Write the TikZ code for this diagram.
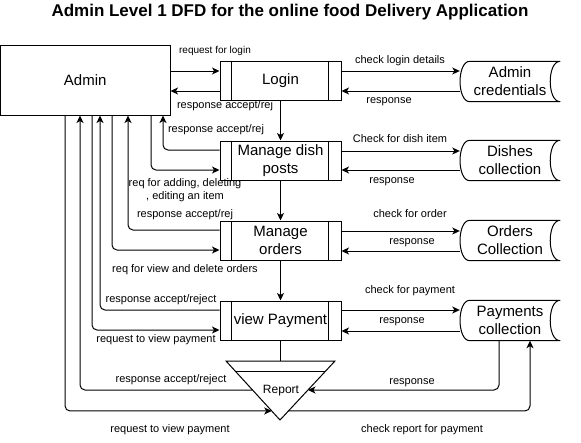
\documentclass[tikz,border=0pt]{standalone}
\usepackage{fontspec}
\setmainfont{Liberation Sans}
\usetikzlibrary{arrows.meta,calc}
\newcommand\dstoreshape[1]{%
  \draw[line width=1pt] ([xshift=10pt]#1.north west) -- (#1.north east)
    .. controls ([xshift=-13.3pt]#1.north east) and ([xshift=-13.3pt]#1.south east) .. (#1.south east)
    -- ([xshift=10pt]#1.south west)
    .. controls ([xshift=-3pt]#1.south west) and ([xshift=-3pt]#1.north west) .. cycle;}
\newcommand\procbars[1]{%
  \draw[line width=1pt] ([xshift=12pt]#1.north west) -- ([xshift=12pt]#1.south west);
  \draw[line width=1pt] ([xshift=-13pt]#1.north east) -- ([xshift=-13pt]#1.south east);}
\begin{document}
\begin{tikzpicture}[x=1pt,y=-1pt,
  ext/.style={draw, line width=1pt, minimum width=169.5pt, minimum height=70pt, inner sep=0pt, font=\fontsize{15}{18}\selectfont},
  proc/.style={draw, line width=1pt, minimum width=121pt, minimum height=39pt, inner sep=0pt, align=center, font=\fontsize{15}{18}\selectfont},
  storenode/.style={minimum width=100pt, minimum height=40pt, inner sep=0pt, align=center, font=\fontsize{15}{18}\selectfont},
  lbl/.style={inner sep=0pt, align=center, font=\fontsize{11}{13}\selectfont, text height=8pt, text depth=2.3pt},
  arr/.style={draw, line width=1pt, rounded corners=5pt, -{Stealth[length=7.5pt,width=7pt,inset=2pt]}},
  ln/.style={draw, line width=1pt, rounded corners=5pt}]
\fill[white] (0,0) rectangle (581,442);
\useasboundingbox (0,0) rectangle (581,442);

\node[font=\fontsize{17}{20}\selectfont\bfseries] (title) at (290,12) {Admin Level 1 DFD for the online food Delivery Application};

% external entity
\node[ext] (admin) at (85.25,80) {Admin};

% processes
\node[proc] (login) at (280.5,80.5) {Login};
\node[proc] (dish) at (280.5,160.5) {Manage dish\\posts};
\node[proc] (orders) at (280.5,240.5) {Manage\\orders};
\node[proc] (payment) at (280.5,320.5) {view Payment};
\procbars{login}
\procbars{dish}
\procbars{orders}
\procbars{payment}

% data stores
\node[storenode] (cred) at (510,81.5) {Admin\\credentials};
\node[storenode] (dishes) at (510,160.5) {Dishes\\collection};
\node[storenode] (ordersc) at (510,240.5) {Orders\\Collection};
\node[storenode] (payc) at (510,320.5) {Payments\\collection};
\dstoreshape{cred}
\dstoreshape{dishes}
\dstoreshape{ordersc}
\dstoreshape{payc}

% report triangle
\coordinate (rtl) at (226,361);
\coordinate (rtr) at (335,361);
\coordinate (rb) at (280,420);
\draw[line width=1pt] (rtl) -- (rtr) -- (rb) -- cycle;
\draw[line width=1pt] ($(rtl)!0.186!(rb)$) -- ($(rtr)!0.186!(rb)$);
\node[font=\fontsize{12}{14}\selectfont, inner sep=0pt] (report) at (281,391) {Report};
\coordinate (repL1) at ($(rtl)!0.4915!(rb)$);
\coordinate (repL2) at ($(rtl)!0.847!(rb)$);
\coordinate (repR1) at ($(rtr)!0.4915!(rb)$);
\coordinate (repR2) at ($(rtr)!0.847!(rb)$);

% admin <-> login
\draw[arr] (admin.east |- 0,71) -- (login.west |- 0,71);
\draw[arr] (login.west |- 0,91) -- (admin.east |- 0,91);
% login <-> credentials
\draw[arr] (login.east |- 0,71) -- (cred.west |- 0,71);
\draw[arr] (cred.west |- 0,91) -- (login.east |- 0,91);
% vertical flow
\draw[arr] (login.south) -- (dish.north);
\draw[arr] (dish.south) -- (orders.north);
\draw[arr] (orders.south) -- (payment.north);
\draw[ln] (payment.south) -- (payment.south |- rtl);

% dish <-> admin
\draw[arr] (dish.west |- 0,150) -| (163,0 |- admin.south);
\draw[arr] (151,0 |- admin.south) |- (dish.west |- 0,170);
% dish <-> dishes
\draw[arr] (dish.east |- 0,151) -- (dishes.west |- 0,151);
\draw[arr] (dishes.west |- 0,170) -- (dish.east |- 0,170);

% orders <-> admin
\draw[arr] (orders.west |- 0,230) -| (128,0 |- admin.south);
\draw[arr] (112,0 |- admin.south) |- (orders.west |- 0,250);
% orders <-> orders collection
\draw[arr] (orders.east |- 0,231) -- (ordersc.west |- 0,231);
\draw[arr] (ordersc.west |- 0,251) -- (orders.east |- 0,251);

% payment <-> admin
\draw[arr] (payment.west |- 0,310) -| (100,0 |- admin.south);
\draw[arr] (92,0 |- admin.south) |- (payment.west |- 0,330);
% payment <-> payments collection
\draw[arr] (payment.east |- 0,310) -- (payc.west |- 0,310);
\draw[arr] (payc.west |- 0,331) -- (payment.east |- 0,331);

% report <-> admin
\draw[arr] (repL1) -| (80,0 |- admin.south);
\draw[arr] (65,0 |- admin.south) |- (repL2);
% report <-> payments collection
\draw[arr] (payc.south -| 499,0) |- (repR1);
\draw[arr] (repR2) -| (530,0 |- payc.south);

% labels
\node[lbl, font=\fontsize{10}{12}\selectfont] (t1) at (215,51) {request for login};
\node[lbl] (t2) at (225,106) {response accept/rej};
\node[lbl] (t3) at (400,60.5) {check login details};
\node[lbl] (t4) at (389,101) {response};
\node[lbl] (t5) at (216,130) {response accept/rej};
\node[inner sep=0pt, align=center, font=\fontsize{11}{13}\selectfont] (t6) at (185,190.5) {req for adding, deleting\\, editing an item};
\node[lbl] (t7) at (400,140) {Check for dish item};
\node[lbl] (t8) at (392,181) {response};
\node[lbl] (t9) at (185,215) {response accept/rej};
\node[lbl] (t10) at (410,215) {check for order};
\node[lbl] (t11) at (412,242) {response};
\node[lbl] (t12) at (185,270) {req for view and delete orders};
\node[lbl] (t13) at (161,300) {response accept/reject};
\node[lbl] (t14) at (156,340) {request to view payment};
\node[lbl] (t15) at (410,291) {check for payment};
\node[lbl] (t16) at (402,321) {response};
\node[lbl] (t17) at (171,380) {response accept/reject};
\node[lbl] (t18) at (170,430) {request to view payment};
\node[lbl] (t19) at (412,382) {response};
\node[lbl] (t20) at (422,430) {check report for payment};
\end{tikzpicture}
\end{document}
